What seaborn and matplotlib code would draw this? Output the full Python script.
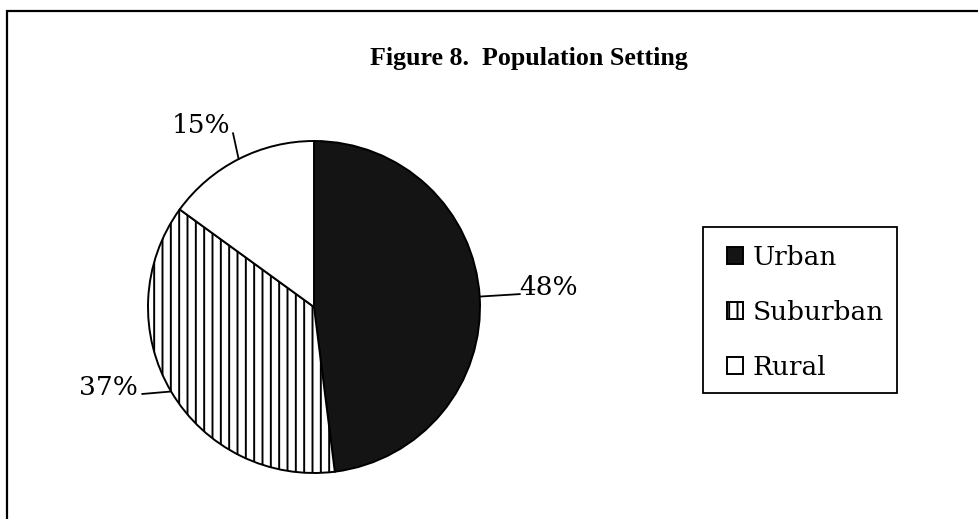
import numpy as np
import matplotlib
matplotlib.use("Agg")
from matplotlib import pyplot as plt
from matplotlib.patches import Rectangle
import seaborn as sns

# data
categories = ["Urban", "Suburban", "Rural"]
shares = [48, 37, 15]
fills = ["#141414", "white", "white"]
hatches = ["", "||", ""]
title = "Figure 8.  Population Setting"

sns.set_style("white")
plt.rcParams["font.family"] = ["DejaVu Serif"]
plt.rcParams["text.color"] = "black"
plt.rcParams["hatch.linewidth"] = 1.4
plt.rcParams["hatch.color"] = "#333333"

W, H = 979, 519
fig = plt.figure(figsize=(W / 100, H / 100), dpi=100)

# outer frame (runs off the right and bottom edges)
fig.patches.append(Rectangle((7 / W, -0.2), 1.3, 1 - 11 / H + 0.2, transform=fig.transFigure,
                             fill=False, edgecolor="black", linewidth=1.6))

fig.text(529 / W, 1 - 65 / H, title, ha="center", va="baseline",
         fontsize=18.7, fontweight="bold", family="Liberation Serif")

# pie: center (314,307) px, radius 166 px
ax = fig.add_axes([148 / W, (H - 473) / H, 332 / W, 332 / H])
wedges, _ = ax.pie(shares, startangle=90, counterclock=False, colors=fills,
                   wedgeprops=dict(edgecolor="black", linewidth=1.4))
for w, h in zip(wedges, hatches):
    w.set_hatch(h)
ax.set_xlim(-1, 1)
ax.set_ylim(-1, 1)
ax.axis("off")

# label placement relative to wedge edge midpoint: (text dx, text dy, line dx, line dy)
offsets = [(0.414, 0.009, 0.243, 0.015),
           (-0.38, -0.021, -0.175, -0.015),
           (-0.226, 0.157, -0.034, 0.157)]
for w, s, (tx, ty, lx, ly) in zip(wedges, shares, offsets):
    ang = np.deg2rad((w.theta1 + w.theta2) / 2)
    ex, ey = np.cos(ang), np.sin(ang)
    ax.plot([ex, ex + lx], [ey, ey + ly], color="black", linewidth=1.3, clip_on=False)
    ax.text(ex + tx, ey + ty, f"{s}%", ha="center", va="baseline", fontsize=19)

# legend box drawn separately, entries placed inside it
fig.patches.append(Rectangle((703 / W, 1 - 393 / H), 194 / W, 166 / H, transform=fig.transFigure,
                             fill=False, edgecolor="black", linewidth=1.3))
leg = fig.legend(wedges, categories, loc="upper left",
                 bbox_to_anchor=(727 / W, 1 - 245 / H), fontsize=19,
                 frameon=False, handlelength=0.62, handleheight=0.62,
                 handletextpad=0.35, labelspacing=1.13, borderpad=0, borderaxespad=0)

fig.savefig("out.png", dpi=100)
